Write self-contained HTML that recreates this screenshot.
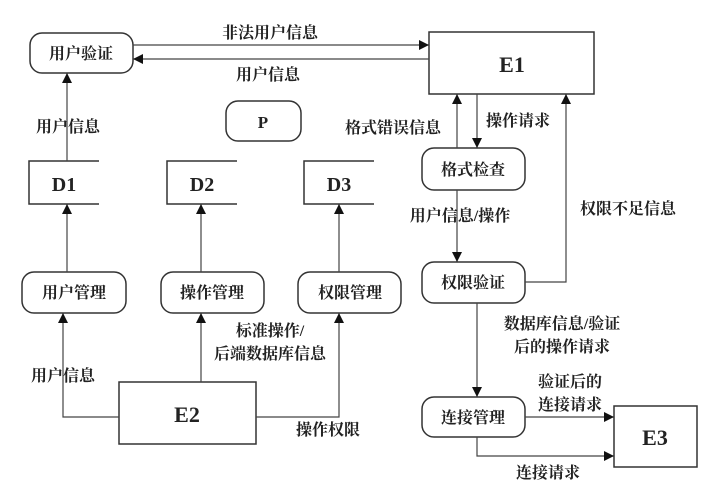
<!DOCTYPE html>
<html><head><meta charset="utf-8"><style>
html,body{margin:0;padding:0;background:#fff;}
svg text{font-family:"Liberation Serif","Noto Serif CJK SC",serif;font-weight:bold;fill:#222;}
</style></head><body>
<svg width="714" height="487" viewBox="0 0 714 487" xmlns="http://www.w3.org/2000/svg">
<defs><marker id="a" viewBox="0 0 10 10" refX="10" refY="5" markerWidth="10" markerHeight="10" markerUnits="userSpaceOnUse" orient="auto"><path d="M0,0L10,5L0,10z" fill="#111"/></marker></defs>
<g fill="#fff" stroke="#333" stroke-width="1.5">
<rect x="30" y="33" width="103" height="40" rx="12"/>
<rect x="429" y="32" width="165" height="62"/>
<rect x="226" y="101" width="75" height="40" rx="12"/>
<rect x="22" y="272" width="104" height="41" rx="12"/>
<rect x="161" y="272" width="103" height="41" rx="12"/>
<rect x="298" y="272" width="103" height="41" rx="12"/>
<rect x="422" y="148" width="103" height="42" rx="12"/>
<rect x="422" y="262" width="103" height="41" rx="12"/>
<rect x="422" y="397" width="103" height="40" rx="12"/>
<rect x="119" y="382" width="137" height="62"/>
<rect x="614" y="406" width="83" height="61"/>
</g>
<g fill="none" stroke="#333" stroke-width="1.5">
<path d="M99,161H29V204H99M237,161H167V204H237M374,161H304V204H374"/>
</g>
<g fill="none" stroke="#444" stroke-width="1.2" marker-end="url(#a)">
<path d="M133,45H429"/>
<path d="M429,59H133"/>
<path d="M67,161V73"/>
<path d="M67,272V204"/>
<path d="M201,272V204"/>
<path d="M339,272V204"/>
<path d="M119,417H63V313"/>
<path d="M201,382V313"/>
<path d="M256,417H339V313"/>
<path d="M457,148V94"/>
<path d="M477,94V148"/>
<path d="M457,190V262"/>
<path d="M525,282H566V94"/>
<path d="M477,303V397"/>
<path d="M525,417H614"/>
<path d="M477,437V456H614"/>
</g>
<g text-anchor="middle" style="font-size:16px">
<text x="81" y="59">用户验证</text>
<text x="512" y="72" style="font-size:22px">E1</text>
<text x="263" y="128" style="font-size:17px">P</text>
<text x="64" y="191" style="font-size:20px">D1</text>
<text x="202" y="191" style="font-size:20px">D2</text>
<text x="339" y="191" style="font-size:20px">D3</text>
<text x="74" y="298">用户管理</text>
<text x="212" y="298">操作管理</text>
<text x="350" y="298">权限管理</text>
<text x="473" y="175">格式检查</text>
<text x="473" y="288">权限验证</text>
<text x="473" y="423">连接管理</text>
<text x="187" y="422" style="font-size:22px">E2</text>
<text x="655" y="445" style="font-size:22px">E3</text>
<text x="270" y="38">非法用户信息</text>
<text x="268" y="80">用户信息</text>
<text x="68" y="132">用户信息</text>
<text x="393" y="133">格式错误信息</text>
<text x="518" y="126">操作请求</text>
<text x="460" y="221">用户信息/操作</text>
<text x="628" y="214">权限不足信息</text>
<text x="562" y="329">数据库信息/验证</text>
<text x="562" y="352">后的操作请求</text>
<text x="570" y="387">验证后的</text>
<text x="570" y="410">连接请求</text>
<text x="548" y="478">连接请求</text>
<text x="63" y="381">用户信息</text>
<text x="270" y="336">标准操作/</text>
<text x="270" y="359">后端数据库信息</text>
<text x="328" y="435">操作权限</text>
</g>
</svg>
</body></html>
